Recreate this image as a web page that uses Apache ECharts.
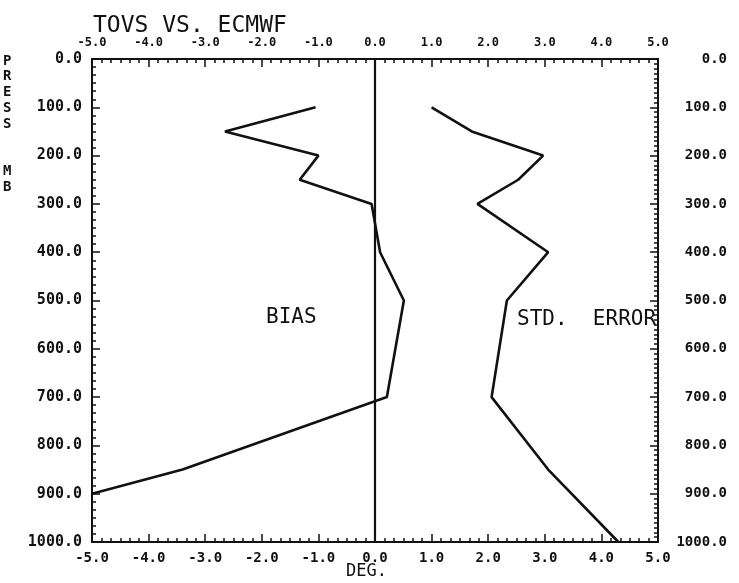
<!DOCTYPE html>
<html>
<head>
<meta charset="utf-8">
<script src="https://cdn.jsdelivr.net/npm/echarts@6/dist/echarts.min.js"></script>
<style>
html,body{margin:0;padding:0;background:#fff;}
#chart{width:739px;height:583px;}
</style>
</head>
<body>
<div id="chart"></div>
<script>
// Data
const biasPressure = [100, 150, 200, 250, 300, 400, 500, 700, 850, 900];
const biasValues   = [-1.05, -2.65, -1.0, -1.33, -0.06, 0.09, 0.51, 0.21, -3.4, -5.0];
const stdPressure  = [100, 150, 200, 250, 300, 400, 500, 700, 850, 1000];
const stdValues    = [1.0, 1.71, 2.97, 2.53, 1.81, 3.06, 2.33, 2.06, 3.06, 4.3];
const titleText = 'TOVS VS. ECMWF';
const xAxisName = 'DEG.';
const yAxisName = 'PRESS MB';
const biasLabel = 'BIAS';
const stdLabel = 'STD.  ERROR';

const FONT = 'DejaVu Sans Mono';
const INK = '#111';

const chart = echarts.init(document.getElementById('chart'));

function xAxisCfg(pos, fs, margin) {
  return {
    type: 'value', position: pos, min: -5, max: 5, interval: 1,
    axisLine: { show: true, onZero: false, lineStyle: { color: INK, width: 2 } },
    axisTick: { show: true, inside: true, length: 8, lineStyle: { color: INK, width: 1.5 } },
    minorTick: { show: true, splitNumber: 6, length: 4, lineStyle: { color: INK, width: 1.5 } },
    splitLine: { show: false },
    axisLabel: { show: true, fontFamily: FONT, fontSize: fs, fontWeight: 'bold', color: INK, margin: margin,
      formatter: v => v.toFixed(1) }
  };
}
function yAxisCfg(pos, split, fs, margin, align) {
  return {
    type: 'value', position: pos, min: 0, max: 1000, interval: 100, inverse: true,
    axisLine: { show: true, onZero: false, lineStyle: { color: INK, width: 2 } },
    axisTick: { show: true, inside: true, length: 8, lineStyle: { color: INK, width: 1.5 } },
    minorTick: { show: true, splitNumber: split, length: 4, lineStyle: { color: INK, width: 1.5 } },
    splitLine: { show: false },
    axisLabel: { show: true, fontFamily: FONT, fontSize: fs, fontWeight: 'bold', color: INK, margin: margin, align: align,
      formatter: v => v.toFixed(1) }
  };
}

const option = {
  backgroundColor: '#fff',
  animation: false,
  grid: { left: 92, right: 81, top: 59, bottom: 41, containLabel: false },
  xAxis: [xAxisCfg('bottom', 14, 9), xAxisCfg('top', 12, 10)],
  yAxis: [yAxisCfg('left', 6, 15, 10, 'right'), yAxisCfg('right', 10, 14, 69, 'right')],
  graphic: [
    { type: 'text', left: 93, top: 15, style: { text: titleText, font: '23px "DejaVu Sans Mono"', fill: INK } },
    { type: 'text', left: 346, top: 563, style: { text: xAxisName, font: '17px "DejaVu Sans Mono"', fill: INK } },
    { type: 'text', left: 3, top: 53, style: { text: yAxisName.split('').map(c => c === ' ' ? '\n' : c).join('\n'), font: 'bold 14px "DejaVu Sans Mono"', fill: INK, lineHeight: 15.75 } },
    { type: 'text', left: 266, top: 307, style: { text: biasLabel, font: '21px "DejaVu Sans Mono"', fill: INK } },
    { type: 'text', left: 517, top: 309, style: { text: stdLabel, font: '21px "DejaVu Sans Mono"', fill: INK } }
  ],
  series: [
    {
      name: 'BIAS', type: 'line', xAxisIndex: 0, yAxisIndex: 0,
      data: biasPressure.map((p, i) => [biasValues[i], p]),
      showSymbol: false, symbol: 'none',
      lineStyle: { color: INK, width: 2.6 },
      markLine: {
        silent: true, symbol: ['none', 'none'], label: { show: false },
        lineStyle: { color: INK, width: 2.2, type: 'solid' },
        data: [{ xAxis: 0 }]
      }
    },
    {
      name: 'STD. ERROR', type: 'line', xAxisIndex: 0, yAxisIndex: 0,
      data: stdPressure.map((p, i) => [stdValues[i], p]),
      showSymbol: false, symbol: 'none',
      lineStyle: { color: INK, width: 2.6 }
    }
  ]
};
chart.setOption(option);
</script>
</body>
</html>
